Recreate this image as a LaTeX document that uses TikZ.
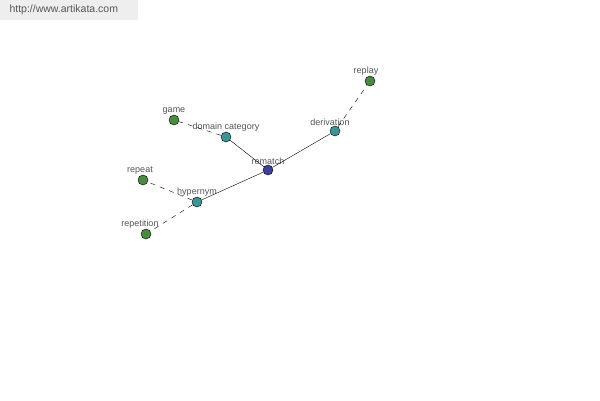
\documentclass[tikz,border=0pt]{standalone}
\usepackage{fontspec}
\setmainfont{Liberation Sans}
\usepackage{tikz}
\usetikzlibrary{positioning}
\definecolor{cLeaf}{RGB}{74,140,62}
\definecolor{cMid}{RGB}{58,150,150}
\definecolor{cRoot}{RGB}{62,64,160}
\definecolor{cText}{RGB}{85,85,85}
\definecolor{cBar}{RGB}{238,238,238}
\tikzset{
	word/.style     ={circle, draw=black, thin, minimum size=10pt, inner sep=0pt},
	leaf/.style     ={word, fill=cLeaf},
	mid/.style      ={word, fill=cMid},
	root/.style     ={word, fill=cRoot},
	lbl/.style      ={text=cText, font=\fontsize{9}{10}\selectfont, inner sep=1pt},
	rel/.style      ={thin, black},
	weak/.style     ={thin, black, dash pattern=on 5pt off 5pt},
}

\begin{document}
\begin{tikzpicture}[x=1pt, y=-1pt]
	\useasboundingbox (0,0) rectangle (600,400);
	\fill[white] (0,0) rectangle (600,400);
	% site banner
	\fill[cBar] (0,0) rectangle (138,20);
	\node[text=cText, font=\fontsize{10.5}{12}\selectfont, anchor=west] (site) at (6,10) {http://www.artikata.com};
	% words
	\node[root] (rematch) at (268,170) [label={[lbl, label distance=-1pt]above:rematch}] {};
	\node[mid]  (domcat)  at (226,137) [label={[lbl, label distance=-1pt]above:domain category}] {};
	\node[mid]  (deriv)   at (335,131) [label={[lbl, label distance=-1pt, xshift=-5pt]above:derivation}] {};
	\node[mid]  (hyper)   at (197,202) [label={[lbl, label distance=-1pt]above:hypernym}] {};
	\node[leaf] (game)    at (174,120) [label={[lbl, label distance=-1pt]above:game}] {};
	\node[leaf] (replay)  at (370,81)  [label={[lbl, label distance=-1pt, xshift=-4pt]above:replay}] {};
	\node[leaf] (repeat)  at (143,180) [label={[lbl, label distance=-1pt, xshift=-3pt]above:repeat}] {};
	\node[leaf] (repet)   at (146,234) [label={[lbl, label distance=-1pt, xshift=-6pt]above:repetition}] {};
	% relations
	\draw[rel] (rematch) -- (domcat);
	\draw[rel] (rematch) -- (deriv);
	\draw[rel] (rematch) -- (hyper);
	\draw[weak] (domcat) -- (game);
	\draw[weak] (deriv) -- (replay);
	\draw[weak] (hyper) -- (repeat);
	\draw[weak] (hyper) -- (repet);
\end{tikzpicture}
\end{document}
